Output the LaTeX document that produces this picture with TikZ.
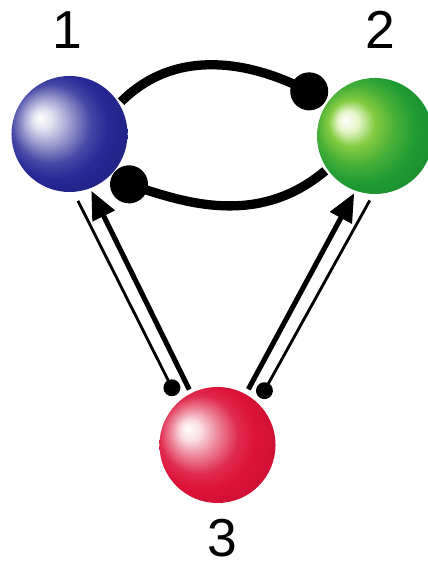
\documentclass[tikz,border=0pt]{standalone}
\usepackage{fontspec}
\setmainfont{Liberation Sans}
\usetikzlibrary{arrows.meta}
\definecolor{netblue}{RGB}{38,40,150}
\definecolor{netgreen}{RGB}{30,155,50}
\definecolor{netlime}{RGB}{165,220,70}
\definecolor{netred}{RGB}{220,18,56}
\pgfdeclareradialshading{bluesph}{\pgfpoint{-13bp}{7bp}}{color(0bp)=(white); color(4.5bp)=(white!85!netblue); color(10bp)=(netblue!45!white); color(17bp)=(netblue!85!white); color(23bp)=(netblue); color(32bp)=(netblue!85!black); color(39bp)=(netblue!62!black); color(45bp)=(netblue!50!black)}
\pgfdeclareradialshading{greensph}{\pgfpoint{-13bp}{7bp}}{color(0bp)=(white); color(4.5bp)=(white!70!netlime); color(10bp)=(netlime!75!netgreen); color(17bp)=(netlime!30!netgreen); color(24bp)=(netgreen); color(33bp)=(netgreen!90!black); color(40bp)=(netgreen!75!black); color(45bp)=(netgreen!65!black)}
\pgfdeclareradialshading{redsph}{\pgfpoint{-13bp}{7bp}}{color(0bp)=(white); color(4.5bp)=(white!85!netred); color(10bp)=(netred!50!white); color(17bp)=(netred!90!white); color(23bp)=(netred); color(33bp)=(netred!92!black); color(40bp)=(netred!80!black); color(45bp)=(netred!75!black)}

\begin{document}
\begin{tikzpicture}[x=0.025cm,y=0.025cm,
  sphere/.style={circle,inner sep=0pt,minimum size=2.9cm,outer sep=2pt,shading=#1},
  digit/.style={font=\fontsize{38}{38}\selectfont},
  inhib/.style={line width=6.6pt,-{Circle[length=27pt]}},
  act/.style={line width=3.6pt,-{Triangle[length=20pt,width=17pt]}},
  weak/.style={line width=2pt,-{Circle[length=12pt]}}]
  \useasboundingbox (0,0) rectangle (427,569);
  \foreach \n/\c/\x/\y in {1/bluesph/69.5/435,2/greensph/375/433,3/redsph/217.5/124}{\node[sphere=\c] (s\n) at (\x,\y) {};}
  \node[digit] (n1) at (67,539) {1};
  \node[digit] (n2) at (380,539) {2};
  \node[digit] (n3) at (222,31) {3};
  % mutual inhibition 1 <-> 2
  \draw[inhib] (s1.32) to[out=45,in=155] (s2.143);
  \draw[inhib] (s2.215) to[out=220,in=-18] (s1.-47);
  % 3 drives 1 and 2, feedback back to 3
  \draw[act,shorten <=1pt] (s3.117) -- (s1.-69);
  \draw[weak,shorten <=5pt,shorten >=3pt] (s1.-85) -- (s3.131);
  \draw[act,shorten <=2pt] (s3.61) -- (s2.250);
  \draw[weak,shorten <=3pt,shorten >=2pt] (s2.267) -- (s3.47);
\end{tikzpicture}
\end{document}
